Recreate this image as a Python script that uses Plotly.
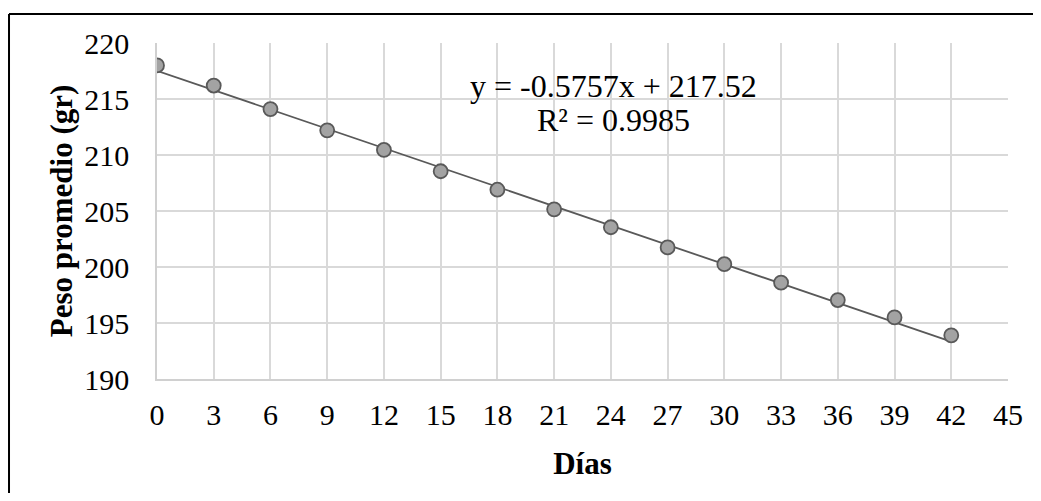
import plotly.graph_objects as go

# Data
dias = [0, 3, 6, 9, 12, 15, 18, 21, 24, 27, 30, 33, 36, 39, 42]
peso = [218.0, 216.2, 214.1, 212.2, 210.45, 208.55, 206.9, 205.15, 203.55, 201.75,
        200.25, 198.6, 197.05, 195.5, 193.9]
slope = -0.5757
intercept = 217.52
r2 = 0.9985
x_ticks = list(range(0, 46, 3))
y_ticks = [190, 195, 200, 205, 210, 215, 220]

FONT = "Liberation Serif, Times New Roman, serif"

trend_x = [min(dias), max(dias)]
trend_y = [slope * v + intercept for v in trend_x]

fig = go.Figure()
fig.add_trace(go.Scatter(x=trend_x, y=trend_y, mode="lines",
                         line=dict(color="#595959", width=1.8),
                         showlegend=False, hoverinfo="skip"))
fig.add_trace(go.Scatter(x=dias, y=peso, mode="markers",
                         marker=dict(size=14, color="#a3a3a3",
                                     line=dict(color="#595959", width=1.8)),
                         showlegend=False))

fig.update_layout(
    width=1033, height=485,
    margin=dict(l=149, r=33, t=35, b=114, autoexpand=False),
    paper_bgcolor="white", plot_bgcolor="white",
    font=dict(family=FONT, size=30, color="black"),
    xaxis=dict(range=[0, 45], tickvals=x_ticks, showgrid=True, automargin=False,
               gridcolor="#d9d9d9", gridwidth=1.5, zeroline=False,
               showline=True, linecolor="#d0d0d0", linewidth=1.5,
               mirror=False, ticks="", ticklabelstandoff=8,
               title=dict(text="<b>Días</b>", font=dict(size=31), standoff=23)),
    yaxis=dict(range=[190, 220], tickvals=y_ticks, showgrid=True, automargin=False,
               gridcolor="#d9d9d9", gridwidth=1.5, zeroline=False,
               showline=True, linecolor="#d0d0d0", linewidth=1.5,
               ticks="", ticklabelstandoff=20,
               title=dict(text="<b>Peso promedio (gr)</b>", font=dict(size=31), standoff=2)),
    annotations=[
        dict(x=0.536, y=0.872, xref="paper", yref="paper",
             text=f"y = {slope}x + {intercept}", showarrow=False,
             font=dict(size=32), xanchor="center", yanchor="middle"),
        dict(x=0.536, y=0.771, xref="paper", yref="paper",
             text=f"R² = {r2}", showarrow=False,
             font=dict(size=32), xanchor="center", yanchor="middle"),
    ],
    shapes=[
        dict(type="line", xref="paper", yref="paper",
             x0=-0.1739, x1=1.0388, y0=1.0863, y1=1.0863,
             line=dict(color="black", width=2)),
        dict(type="line", xref="paper", yref="paper",
             x0=-0.1739, x1=-0.1739, y0=1.0863, y1=-0.34,
             line=dict(color="black", width=2)),
    ],
)

fig.write_html("out.html", config={"displayModeBar": False})
